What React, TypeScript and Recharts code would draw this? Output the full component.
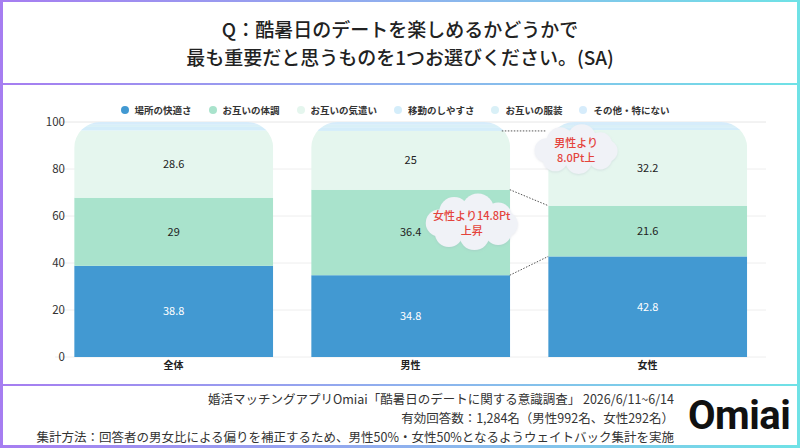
import React from "react"
import { BarChart, Bar, XAxis, YAxis, CartesianGrid, Legend, LabelList, usePlotArea } from "recharts"

const groups = ["全体", "男性", "女性"]
const comfort = [38.8, 34.8, 42.8]
const health = [29, 36.4, 21.6]
const care = [28.6, 25, 32.2]
const move = [1.5, 1.6, 1.2]
const outfit = [0.9, 1.0, 0.9]
const other = [1.2, 1.2, 1.3]
const yTicks = [0, 20, 40, 60, 80, 100]

const series = [
  { key: "comfort", name: "場所の快適さ", color: "#4299d2", label: "#ffffff" },
  { key: "health", name: "お互いの体調", color: "#a9e3cc", label: "#222222" },
  { key: "care", name: "お互いの気遣い", color: "#e5f6ee", label: "#222222" },
  { key: "move", name: "移動のしやすさ", color: "#d4edfa", label: "" },
  { key: "outfit", name: "お互いの服装", color: "#d9f0f7", label: "" },
  { key: "other", name: "その他・特にない", color: "#d6ecfb", label: "" },
]

const data = groups.map((g, i) => ({
  group: g,
  comfort: comfort[i],
  health: health[i],
  care: care[i],
  move: move[i],
  outfit: outfit[i],
  other: other[i],
}))

const GAP = 0.081
const RADIUS = 26
const FONT = '"Noto Sans CJK JP", "Noto Sans", sans-serif'
const GRAD = "linear-gradient(90deg, #a67df1, #8fb0ee 50%, #6fe2e6)"

// each segment is clipped by the rounded outline of the whole stack
const makeShape = (key: string, order: number) => (props: any) => {
  const { x, y, width, height, payload, index } = props
  if (!height || height <= 0) return null
  const ppu = height / payload[key]
  let below = 0
  let total = 0
  series.forEach((s, i) => {
    if (i < order) below += payload[s.key]
    total += payload[s.key]
  })
  const bottom = y + height + below * ppu
  const top = bottom - total * ppu
  const r = RADIUS
  const d = `M${x},${bottom} V${top + r} A${r},${r} 0 0 1 ${x + r},${top} H${x + width - r} A${r},${r} 0 0 1 ${x + width},${top + r} V${bottom} Z`
  const id = `clip-${key}-${index}`
  return (
    <g>
      <defs>
        <clipPath id={id}>
          <path d={d} />
        </clipPath>
      </defs>
      <rect x={x} y={y} width={width} height={height} fill={series[order].color} clipPath={`url(#${id})`} />
    </g>
  )
}

const centerLabel = (color: string) => (p: any) => {
  const vb = p.viewBox ?? p
  const { x, y, width, height } = vb
  if (p.value == null) return null
  return (
    <text x={x + width / 2} y={y + height / 2} dy="0.36em" textAnchor="middle" fill={color} fontSize={11}>
      {p.value}
    </text>
  )
}

const YTick = (p: any) => (
  <text x={p.x + 10} y={p.y} dy="0.36em" textAnchor="end" fill="#333" fontSize={11.5}>
    {p.payload.value}
  </text>
)

const renderLegend = () => (
  <div
    style={{
      display: "flex",
      justifyContent: "center",
      gap: 17,
      fontSize: 9.5,
      fontWeight: 700,
      color: "#333",
      height: 24,
      paddingRight: 10,
      lineHeight: "12px",
    }}
  >
    {series.map((s) => (
      <div key={s.key} style={{ display: "flex", alignItems: "center" }}>
        <span style={{ width: 8, height: 8, borderRadius: "50%", background: s.color, marginRight: 6 }} />
        {s.name}
      </div>
    ))}
  </div>
)

function Cloud({ cx, cy, w, h, lines }: { cx: number; cy: number; w: number; h: number; lines: string[] }) {
  const bumps = [
    [-0.2, -0.22, 0.3],
    [0.07, -0.27, 0.32],
    [0.3, -0.14, 0.27],
    [-0.26, 0.2, 0.28],
    [0.03, 0.24, 0.3],
    [0.3, 0.17, 0.27],
    [-0.37, 0, 0.27],
    [0.38, 0.02, 0.25],
  ]
  return (
    <g>
      <g filter="url(#cloudShadow)">
        <ellipse cx={cx} cy={cy} rx={w * 0.36} ry={h * 0.3} fill="#f0f2f7" />
        {bumps.map(([dx, dy, r], i) => (
          <circle key={i} cx={cx + dx * w} cy={cy + dy * h} r={r * h} fill="#f0f2f7" />
        ))}
      </g>
      {lines.map((t, i) => (
        <text
          key={t}
          x={cx}
          y={cy + (i - (lines.length - 1) / 2) * 15}
          dy="0.36em"
          textAnchor="middle"
          fill="#e4433c"
          fontSize={11}
          fontWeight={500}
        >
          {t}
        </text>
      ))}
    </g>
  )
}

function Notes() {
  const plot = usePlotArea()
  if (!plot) return null
  const band = plot.width / groups.length
  const left = (i: number) => plot.x + band * i + band * GAP
  const right = (i: number) => plot.x + band * (i + 1) - band * GAP
  const yv = (v: number) => plot.y + plot.height * (1 - v / 100)
  const m = 1
  const f = 2
  const line = { stroke: "#555", strokeWidth: 1, strokeDasharray: "1.5 1.5" }
  return (
    <g>
      <defs>
        <filter id="cloudShadow" x="-20%" y="-20%" width="140%" height="140%">
          <feDropShadow dx="0" dy="1" stdDeviation="1.2" floodColor="#9aa3b5" floodOpacity="0.25" />
        </filter>
      </defs>
      <line x1={right(m) - 8} y1={yv(comfort[m] + health[m] + care[m])} x2={left(f) - 2} y2={yv(comfort[m] + health[m] + care[m])} {...line} />
      <line x1={right(m)} y1={yv(comfort[m] + health[m])} x2={left(f)} y2={yv(comfort[f] + health[f])} {...line} />
      <line x1={right(m)} y1={yv(comfort[m])} x2={left(f)} y2={yv(comfort[f])} {...line} />
      <Cloud cx={left(f) + 28} cy={yv(88)} w={80} h={44} lines={["男性より", "8.0Pt上"]} />
      <Cloud cx={right(m) - 38} cy={yv(57)} w={88} h={50} lines={["女性より14.8Pt", "上昇"]} />
    </g>
  )
}

// notes ride on the top label layer so they sit above the bars
const notesLabel = (p: any) => (p.index === 0 ? <Notes key="notes" /> : null)

export default function App() {
  return (
    <div style={{ position: "absolute", left: 0, top: 0, width: 800, height: 448, background: GRAD, fontFamily: FONT }}>
      <div
        style={{
          position: "absolute",
          left: 3,
          top: 2,
          width: 794,
          height: 81,
          background: "#fff",
          display: "flex",
          flexDirection: "column",
          alignItems: "center",
          justifyContent: "center",
          fontSize: 19,
          fontWeight: 500,
          color: "#222",
          lineHeight: "28px",
        }}
      >
        <div>Q：酷暑日のデートを楽しめるかどうかで</div>
        <div>最も重要だと思うものを1つお選びください。(SA)</div>
      </div>
      <div style={{ position: "absolute", left: 3, top: 85, width: 794, height: 299, background: "#fff" }} />
      <div style={{ position: "absolute", left: 0, top: 90 }}>
        <BarChart width={800} height={290} data={data} margin={{ top: 8, right: 34, left: 5, bottom: 0 }} barCategoryGap={`${GAP * 100}%`}>
          <CartesianGrid vertical={false} stroke="#eeeeee" />
          <XAxis dataKey="group" axisLine={false} tickLine={false} tickSize={0} tickMargin={5} height={23} tick={{ fontSize: 10, fontWeight: 700, fill: "#222" }} />
          <YAxis domain={[0, 100]} ticks={yTicks} width={50} axisLine={false} tickLine={false} tickSize={0} tickMargin={0} tick={<YTick />} />
          <Legend verticalAlign="top" height={24} content={renderLegend} wrapperStyle={{ left: 0, width: 800 }} />
          {series.map((s, i) => (
            <Bar key={s.key} dataKey={s.key} name={s.name} stackId="a" fill={s.color} shape={makeShape(s.key, i)} isAnimationActive={false}>
              {s.label ? <LabelList dataKey={s.key} content={centerLabel(s.label)} /> : null}
              {i === series.length - 1 ? <LabelList dataKey={s.key} content={notesLabel} /> : null}
            </Bar>
          ))}
        </BarChart>
      </div>
      <div style={{ position: "absolute", left: 3, top: 386, width: 794, height: 59, background: "#fff" }} />
      <div
        style={{
          position: "absolute",
          right: 126,
          top: 389,
          textAlign: "right",
          fontSize: 12.5,
          color: "#333",
          lineHeight: "19px",
          whiteSpace: "nowrap",
        }}
      >
        <div>婚活マッチングアプリOmiai「酷暑日のデートに関する意識調査」 2026/6/11~6/14</div>
        <div>有効回答数：1,284名（男性992名、女性292名）</div>
        <div>集計方法：回答者の男女比による偏りを補正するため、男性50%・女性50%となるようウェイトバック集計を実施</div>
      </div>
      <div
        style={{
          position: "absolute",
          left: 688,
          top: 392,
          fontFamily: "Roboto, sans-serif",
          fontSize: 40,
          fontWeight: 700,
          color: "#111",
          lineHeight: "48px",
          letterSpacing: -0.5,
        }}
      >
        Omiai
      </div>
    </div>
  )
}
